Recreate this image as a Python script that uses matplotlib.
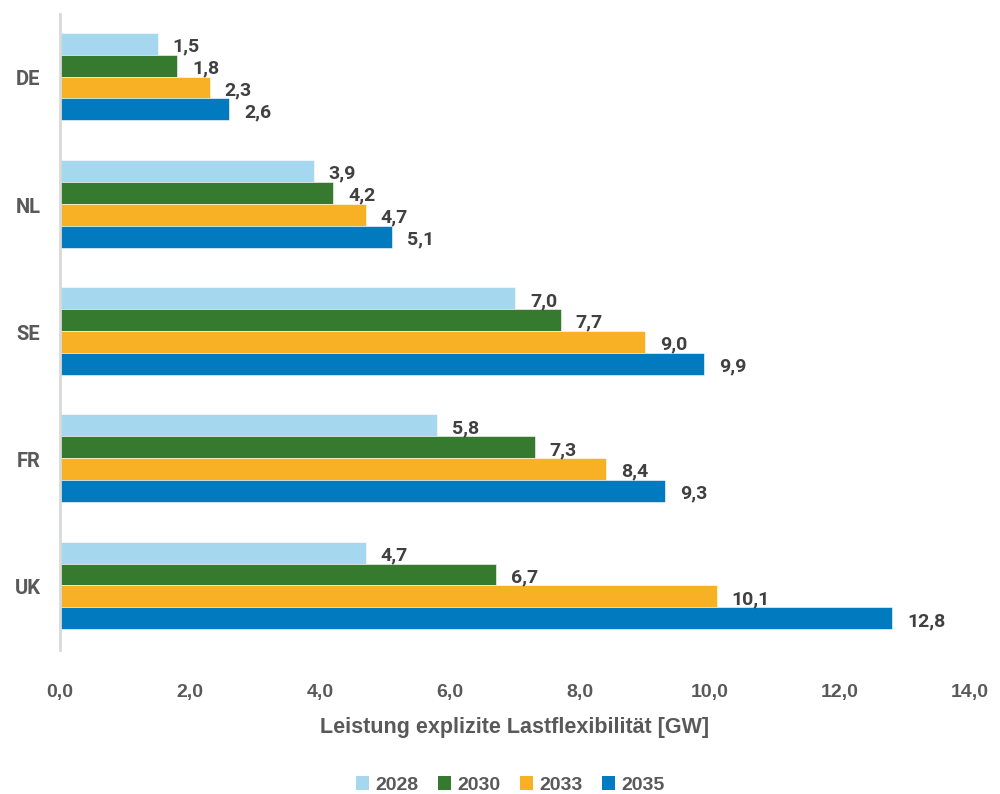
import matplotlib
matplotlib.use("Agg")
import matplotlib.pyplot as plt
import numpy as np
from matplotlib.patches import Patch

# Leistung explizite Lastflexibilität je Land und Jahr [GW]
laender = ["DE", "NL", "SE", "FR", "UK"]
jahre = ["2028", "2030", "2033", "2035"]
werte_2028 = [1.5, 3.9, 7.0, 5.8, 4.7]
werte_2030 = [1.8, 4.2, 7.7, 7.3, 6.7]
werte_2033 = [2.3, 4.7, 9.0, 8.4, 10.1]
werte_2035 = [2.6, 5.1, 9.9, 9.3, 12.8]
farben = ["#A5D7EF", "#357A2F", "#F8B024", "#017ABF"]

xticks = np.arange(0, 14.1, 2)

schmal = ["Liberation Sans Narrow", "Liberation Sans", "DejaVu Sans"]
fett = ["Roboto", "DejaVu Sans"]
grau = "#595959"

fig = plt.figure(figsize=(10, 7.94), dpi=100)
ax = fig.add_axes([0.06, 0.181, 0.91, 0.801])

serien = [werte_2028, werte_2030, werte_2033, werte_2035]
y = np.arange(len(laender))
h = 0.172
for i, (werte, farbe) in enumerate(zip(serien, farben)):
    pos = y + (i - 1.5) * h - 0.01
    bars = ax.barh(pos, werte, height=h, color=farbe, edgecolor="white", linewidth=0.4)
    for b, v in zip(bars, werte):
        ax.annotate(f"{v:.1f}".replace(".", ","),
                    (b.get_width(), b.get_y() + b.get_height() / 2),
                    xytext=(11, -2), textcoords="offset points",
                    va="center", ha="left", fontsize=14, fontweight="bold",
                    color="#404040", family=fett)

ax.set_xlim(0, 14)
ax.set_ylim(4.5, -0.5)
ax.set_yticks(y)
ax.set_yticklabels(laender, fontsize=14.5, fontweight="bold", color=grau, family=fett)
ax.set_xticks(xticks)
ax.set_xticklabels([f"{t:.1f}".replace(".", ",") for t in xticks],
                   fontsize=14, fontweight="bold", color=grau, family=schmal)
ax.tick_params(axis="both", length=0)
ax.tick_params(axis="x", pad=24)
ax.tick_params(axis="y", pad=14)

for s in ["top", "right", "bottom"]:
    ax.spines[s].set_visible(False)
ax.spines["left"].set_color("#D9D9D9")
ax.spines["left"].set_linewidth(2)

ax.set_xlabel("Leistung explizite Lastflexibilität [GW]", fontsize=15.5,
              fontweight="bold", color=grau, family=schmal, labelpad=12)

handles = [Patch(facecolor=f, edgecolor="none") for f in farben]
leg = fig.legend(handles, jahre, loc="center", bbox_to_anchor=(0.51, 0.011),
                 ncol=4, frameon=False, handlelength=0.7, handleheight=0.7,
                 handletextpad=0.3, columnspacing=1.0,
                 prop={"family": schmal, "size": 14, "weight": "bold"})
for t in leg.get_texts():
    t.set_color(grau)

fig.savefig("out.png", dpi=100)
